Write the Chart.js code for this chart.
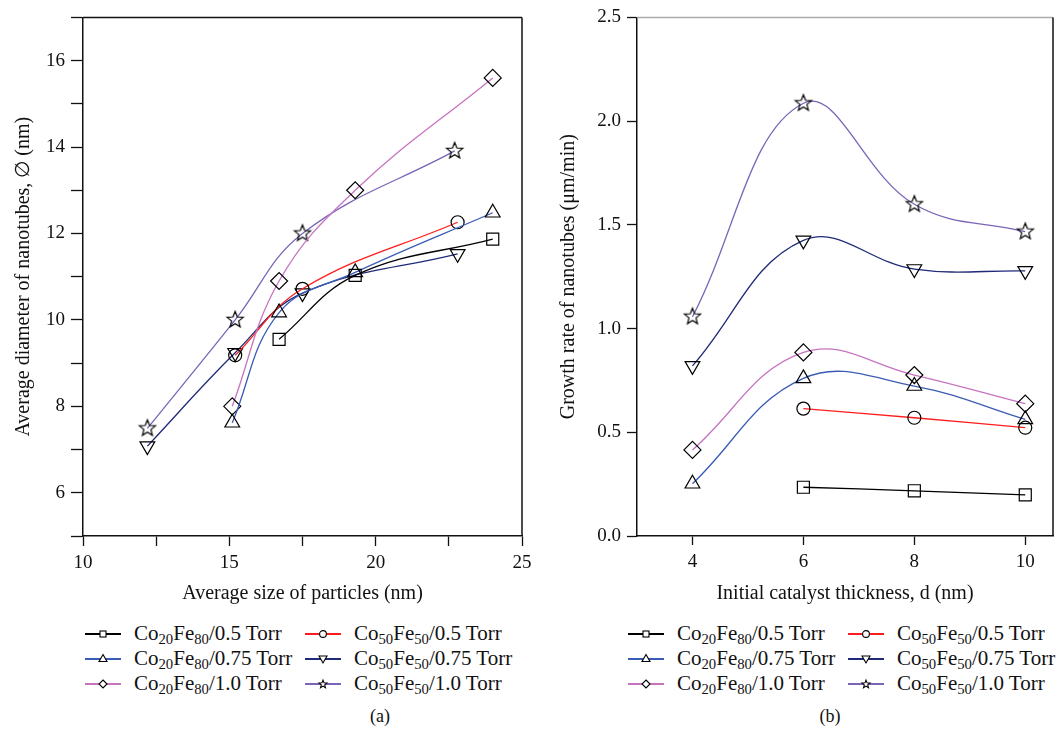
<!DOCTYPE html>
<html>
<head>
<meta charset="utf-8">
<script src="https://cdn.jsdelivr.net/npm/chart.js@4/dist/chart.umd.min.js"></script>
<style>
  body { margin: 0; background: #fff; width: 1063px; height: 741px; position: relative; overflow: hidden;
         font-family: "Liberation Serif", "DejaVu Serif", serif; color: #111; }
  canvas { position: absolute; top: 0; }
  #chartA { left: 0; }
  #chartB { left: 540px; }
  .item { position: absolute; height: 25px; display: flex; align-items: center; font-size: 21px; white-space: nowrap; }
  .item svg { margin-right: 13px; flex: none; }
  .item sub { font-size: 70%; vertical-align: -0.3em; line-height: 0; }
  .cap { position: absolute; top: 706px; font-size: 18px; transform: translateX(-50%); }
</style>
</head>
<body>
<canvas id="chartA" width="540" height="610"></canvas>
<canvas id="chartB" width="523" height="610"></canvas>
<div id="legendA"></div>
<div id="legendB"></div>
<div class="cap" style="left:380px">(a)</div>
<div class="cap" style="left:830px">(b)</div>

<script>
// series names, colours and marker shapes (same order in both panels)
const seriesNames = ['Co20Fe80/0.5 Torr', 'Co20Fe80/0.75 Torr', 'Co20Fe80/1.0 Torr',
                     'Co50Fe50/0.5 Torr', 'Co50Fe50/0.75 Torr', 'Co50Fe50/1.0 Torr'];
const seriesColors = ['#000000', '#3a5cb4', '#c774c0', '#ff1c1c', '#1f2a78', '#7b64b8'];
const seriesMarkers = ['rect', 'triangle', 'rectRot', 'circle', 'triangleDown', 'star'];

// panel (a): average particle size (nm) vs average nanotube diameter (nm)
const size_20_05 = [16.7, 19.3, 24.0];
const diam_20_05 = [9.55, 11.03, 11.87];
const size_20_075 = [15.1, 16.7, 19.3, 24.0];
const diam_20_075 = [7.62, 10.17, 11.1, 12.48];
const size_20_10 = [15.1, 16.7, 19.3, 24.0];
const diam_20_10 = [8.0, 10.9, 13.0, 15.6];
const size_50_05 = [15.2, 17.5, 22.8];
const diam_50_05 = [9.18, 10.72, 12.26];
const size_50_075 = [12.2, 15.2, 17.5, 22.8];
const diam_50_075 = [7.08, 9.24, 10.62, 11.53];
const size_50_10 = [12.2, 15.2, 17.5, 22.7];
const diam_50_10 = [7.49, 10.0, 12.0, 13.91];

// panel (b): initial catalyst thickness (nm) vs growth rate (um/min)
const thickness = [4, 6, 8, 10];
const rate_20_05 = [null, 0.235, 0.218, 0.198];
const rate_20_075 = [0.252, 0.76, 0.723, 0.562];
const rate_20_10 = [0.415, 0.885, 0.776, 0.638];
const rate_50_05 = [null, 0.614, 0.57, 0.522];
const rate_50_075 = [0.82, 1.425, 1.287, 1.278];
const rate_50_10 = [1.057, 2.086, 1.599, 1.467];

// ticks
const xTicksA = [10, 12.5, 15, 17.5, 20, 22.5, 25];
const xLabelsA = [10, 15, 20, 25];
const yTicksA = [5, 6, 7, 8, 9, 10, 11, 12, 13, 14, 15, 16, 17];
const yLabelsA = [6, 8, 10, 12, 14, 16];
const xTicksB = [4, 6, 8, 10];
const yTicksB = [0, 0.5, 1.0, 1.5, 2.0, 2.5];

const FONT = '"Liberation Serif", "DejaVu Serif", serif';

// five pointed hollow star, chart.js has none
function starCanvas(ro, ri, lw) {
  const c = document.createElement('canvas');
  const s = Math.ceil(ro * 2 + lw * 2 + 2);
  c.width = s; c.height = s;
  const g = c.getContext('2d');
  g.beginPath();
  for (let i = 0; i < 10; i++) {
    const r = i % 2 ? ri : ro;
    const a = -Math.PI / 2 + i * Math.PI / 5;
    g.lineTo(s / 2 + r * Math.cos(a), s / 2 + r * Math.sin(a));
  }
  g.closePath();
  g.lineWidth = lw;
  g.strokeStyle = '#000';
  g.stroke();
  return c;
}
const starImg = starCanvas(8.5, 3.7, 1.2);

function pointProps(m) {
  return {
    pointStyle: m === 'star' ? starImg : (m === 'triangleDown' ? 'triangle' : m),
    pointRotation: m === 'triangleDown' ? 180 : 0,
    pointRadius: m === 'circle' ? 6.5 : 8.5,
    pointBorderColor: '#000',
    pointBorderWidth: 1.2,
    pointBackgroundColor: 'rgba(0,0,0,0)'
  };
}

function makeDatasets(pairs) {
  return pairs.map((p, i) => {
    const pts = p[0].map((x, k) => ({ x: x, y: p[1][k] })).filter(d => d.y !== null);
    return Object.assign({
      label: seriesNames[i],
      data: pts,
      borderColor: seriesColors[i],
      borderWidth: 1.3,
      tension: 0.4,
      fill: false,
      clip: false
    }, pointProps(seriesMarkers[i]));
  });
}

const frame = {
  id: 'frame',
  afterDraw(chart, args, opts) {
    const { ctx, chartArea: a } = chart;
    ctx.save();
    ctx.lineWidth = 1.5;
    ctx.strokeStyle = opts.top || '#000';
    ctx.beginPath(); ctx.moveTo(a.left, a.top); ctx.lineTo(a.right, a.top); ctx.stroke();
    ctx.strokeStyle = '#111';
    ctx.beginPath(); ctx.moveTo(a.right, a.top); ctx.lineTo(a.right, a.bottom); ctx.stroke();
    ctx.restore();
  }
};

function axis(o) {
  return {
    type: 'linear',
    min: o.min, max: o.max,
    afterFit: s => { if (o.w) s.width = o.w; if (o.h) s.height = o.h; },
    afterBuildTicks: s => { s.ticks = o.ticks.map(v => ({ value: v })); },
    grid: { drawOnChartArea: false, tickLength: o.tl, tickColor: '#111', tickWidth: 1.3 },
    border: { color: '#111', width: 1.5 },
    ticks: { color: '#111', font: { family: FONT, size: 19 }, padding: 6, autoSkip: false, maxRotation: 0,
             callback: o.cb },
    title: { display: true, text: o.title, color: '#111', font: { family: FONT, size: 20 }, padding: { top: o.tp } }
  };
}

new Chart(document.getElementById('chartA'), {
  type: 'line',
  data: {
    datasets: makeDatasets([[size_20_05, diam_20_05], [size_20_075, diam_20_075], [size_20_10, diam_20_10],
                            [size_50_05, diam_50_05], [size_50_075, diam_50_075], [size_50_10, diam_50_10]])
  },
  options: {
    responsive: false, animation: false,
    layout: { padding: { left: 0, right: 18, top: 17, bottom: 0 } },
    plugins: { legend: { display: false }, tooltip: { enabled: false }, frame: { top: '#111' } },
    scales: {
      x: axis({ min: 10, max: 25, h: 74, tl: 10, ticks: xTicksA, tp: 9,
                cb: v => xLabelsA.includes(v) ? String(v) : '', title: 'Average size of particles (nm)' }),
      y: axis({ min: 5, max: 17, w: 83, tl: 12, ticks: yTicksA, tp: 12,
                cb: v => yLabelsA.includes(v) ? String(v) : '', title: 'Average diameter of nanotubes, \u2205 (nm)' })
    }
  },
  plugins: [frame]
});

new Chart(document.getElementById('chartB'), {
  type: 'line',
  data: {
    datasets: makeDatasets([[thickness, rate_20_05], [thickness, rate_20_075], [thickness, rate_20_10],
                            [thickness, rate_50_05], [thickness, rate_50_075], [thickness, rate_50_10]])
  },
  options: {
    responsive: false, animation: false,
    layout: { padding: { left: 0, right: 10, top: 15, bottom: 0 } },
    plugins: { legend: { display: false }, tooltip: { enabled: false }, frame: { top: '#aaa' } },
    scales: {
      x: axis({ min: 3, max: 10.5, h: 74, tl: 9, ticks: xTicksB, tp: 9,
                cb: v => String(v), title: 'Initial catalyst thickness, d (nm)' }),
      y: axis({ min: 0, max: 2.5, w: 97, tl: 10, ticks: yTicksB, tp: 17,
                cb: v => v.toFixed(1), title: 'Growth rate of nanotubes (\u03bcm/min)' })
    }
  },
  plugins: [frame]
});

// html legends with subscripts
function iconSvg(i) {
  const m = seriesMarkers[i];
  let shape = '';
  const st = 'fill="#fff" stroke="#000" stroke-width="1.1"';
  if (m === 'rect') shape = `<rect x="15" y="4" width="6" height="6" ${st}/>`;
  else if (m === 'triangle') shape = `<polygon points="18,2.5 22,9.5 14,9.5" ${st}/>`;
  else if (m === 'triangleDown') shape = `<polygon points="14,4 22,4 18,11" ${st}/>`;
  else if (m === 'rectRot') shape = `<polygon points="18,3 22,7 18,11 14,7" ${st}/>`;
  else if (m === 'circle') shape = `<circle cx="18" cy="7" r="3.4" ${st}/>`;
  else {
    let p = [];
    for (let k = 0; k < 10; k++) {
      const r = k % 2 ? 1.8 : 4.2, a = -Math.PI / 2 + k * Math.PI / 5;
      p.push((18 + r * Math.cos(a)).toFixed(2) + ',' + (7.3 + r * Math.sin(a)).toFixed(2));
    }
    shape = `<polygon points="${p.join(' ')}" ${st}/>`;
  }
  return `<svg width="36" height="14"><line x1="0" y1="7" x2="36" y2="7" stroke="${seriesColors[i]}" stroke-width="1.8"/>${shape}</svg>`;
}

function buildLegend(id, left, top) {
  const el = document.getElementById(id);
  seriesNames.forEach((name, i) => {
    const d = document.createElement('div');
    d.className = 'item';
    d.style.left = (left + (i < 3 ? 0 : 220)) + 'px';
    d.style.top = (top + (i % 3) * 25) + 'px';
    d.innerHTML = iconSvg(i) + '<span>' + name.replace(/([A-Za-z])(\d+)/g, '$1<sub>$2</sub>') + '</span>';
    el.appendChild(d);
  });
}
buildLegend('legendA', 85, 621);
buildLegend('legendB', 628, 621);
</script>
</body>
</html>
